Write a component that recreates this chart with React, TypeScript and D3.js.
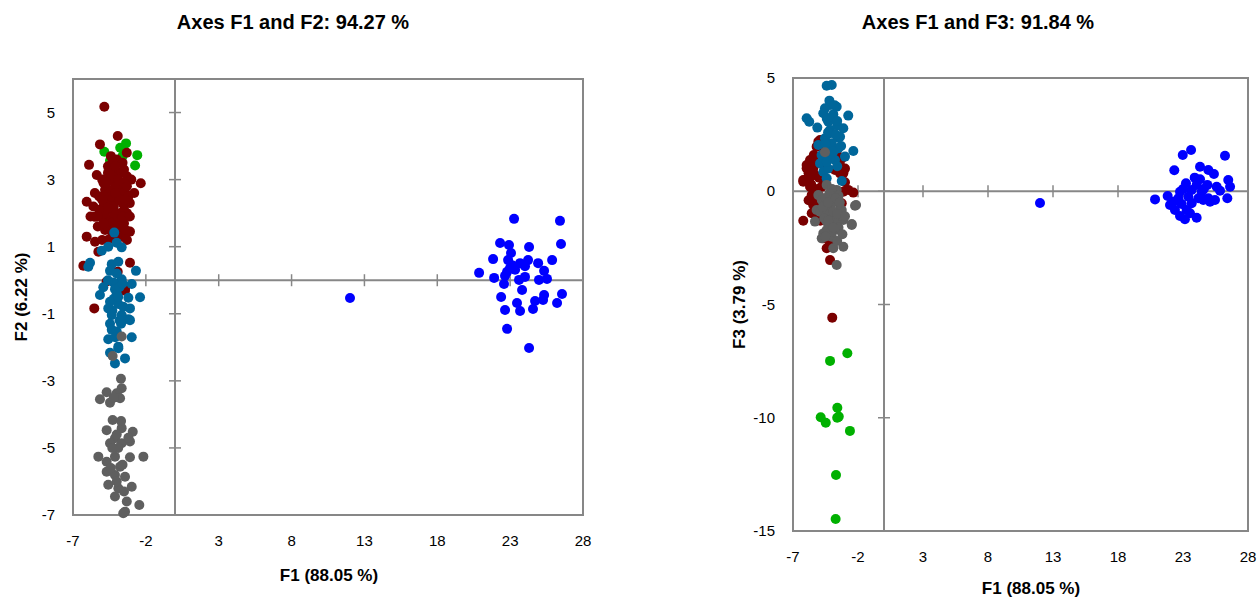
import React from 'react';
import * as d3 from 'd3';

type Pt = [number, number];

// tick labels
const f1Ticks = [-7, -2, 3, 8, 13, 18, 23, 28];
const f2Ticks = [-7, -5, -3, -1, 1, 3, 5];
const f3Ticks = [-15, -10, -5, 0, 5];

// series colours, in draw order
const groupNames = ['green', 'red', 'teal', 'gray', 'blue'];
const groupColors = ['#00b000', '#7a0000', '#00669a', '#5f5f5f', '#0000ff'];

// ---- F1 / F2 ----
const f12Green: Pt[] = [
  [-4.85, 3.83], [-3.76, 3.95], [-3.36, 4.08], [-2.59, 3.73], [-2.74, 3.42],
  [-4.46, 3.56], [-3.5, 2.81], [-3.6, 3.7], [-4.0, 3.5],
];
const f12Red: Pt[] = [
  [-4.85, 5.17], [-3.93, 4.3], [-5.15, 4.05], [-5.9, 3.44], [-5.37, 3.14],
  [-2.35, 2.89], [-3.31, 3.8], [-6.06, 2.34], [-5.49, 1.89], [-6.06, 1.3],
  [-6.29, 0.43], [-3.09, 0.52], [-3.09, 1.45], [-5.54, -0.84], [-3.43, -0.24],
  [-5.49, 1.15], [-5.26, 0.85], [-3.93, 0.25], [-3.43, -0.31], [-4.69, -0.04],
  [-3.2, 1.45], [-3.66, 1.6],
  [-4.4, 3.7], [-4.0, 3.6], [-3.6, 3.5], [-4.6, 3.4], [-4.2, 3.3], [-3.8, 3.2],
  [-3.3, 3.1], [-5.0, 3.0], [-4.5, 3.0], [-4.1, 2.9], [-3.7, 2.9], [-3.0, 3.0],
  [-4.8, 2.7], [-4.3, 2.7], [-3.9, 2.6], [-3.4, 2.6], [-5.2, 2.5], [-4.6, 2.4],
  [-4.1, 2.4], [-3.6, 2.3], [-3.1, 2.3], [-5.6, 2.2], [-4.9, 2.2], [-4.4, 2.1],
  [-3.8, 2.0], [-3.3, 2.0], [-5.1, 1.9], [-4.6, 1.8], [-4.0, 1.7], [-3.5, 1.7],
  [-4.8, 1.5], [-4.3, 1.4], [-3.7, 1.3], [-5.0, 1.2], [-3.3, 1.2],
  [-4.3, 3.5], [-3.5, 3.3], [-4.9, 2.9], [-4.5, 2.6], [-3.6, 2.7],
  [-4.2, 2.2], [-3.5, 2.1], [-4.8, 2.0], [-4.1, 1.9], [-3.9, 1.5], [-4.6, 1.2],
  [-2.8, 2.6], [-5.5, 2.6], [-5.8, 1.9], [-5.3, 1.6],
  [-4.3, 3.1], [-3.9, 3.0], [-4.7, 2.9], [-4.0, 2.8], [-3.5, 2.9], [-4.4, 2.5],
  [-3.8, 2.4], [-4.9, 2.5], [-4.2, 2.0], [-3.6, 1.9], [-4.4, 1.7], [-3.8, 1.6],
  [-4.6, 1.6], [-4.2, 1.5], [-5.2, 2.1], [-5.0, 2.4], [-3.3, 2.8], [-3.2, 2.5],
  [-4.1, 3.4], [-4.6, 3.2], [-4.1, 2.6], [-3.4, 2.4], [-4.6, 2.15],
  [-5.3, 1.9], [-4.9, 1.7], [-3.4, 1.5], [-4.0, 1.3], [-4.4, 1.25], [-3.1, 1.9],
];
const f12Teal: Pt[] = [
  [-4.17, 1.42], [-5.03, 0.88], [-4.58, 1.0], [-4.0, 1.12], [-3.66, 0.98],
  [-5.83, 0.52], [-5.95, 0.4], [-4.34, 0.48], [-3.89, 0.55], [-2.68, 0.28],
  [-4.46, 0.28], [-3.66, 0.03], [-2.97, -0.11], [-4.23, -0.07], [-4.92, -0.21],
  [-4.12, -0.27], [-5.15, -0.44], [-3.2, -0.52], [-2.4, -0.51], [-4.46, -0.64],
  [-3.89, -0.71], [-4.58, -0.84], [-3.55, -0.79], [-3.09, -0.84], [-4.34, -1.04],
  [-3.66, -1.04], [-3.2, -1.16], [-4.46, -1.3], [-4.34, -1.48], [-4.0, -1.53],
  [-4.58, -1.76], [-2.97, -1.7], [-3.89, -1.98], [-4.46, -2.16], [-3.43, -2.33],
  [-3.89, -2.03], [-4.12, -2.48], [-3.09, -1.19], [-4.0, -0.4], [-3.8, -0.2],
  [-4.2, -0.55], [-3.7, -1.3], [-4.0, 0.2], [-3.9, -0.5], [-4.3, -0.9],
  [-3.8, -1.2], [-4.1, -1.7], [-3.6, -0.1], [-4.6, 0.0],
];
const f12Gray: Pt[] = [
  [-3.66, -1.68], [-4.28, -2.26],
  [-3.71, -2.94], [-3.66, -3.22], [-4.69, -3.34], [-4.0, -3.37], [-5.15, -3.55],
  [-4.46, -3.65], [-3.77, -3.52], [-4.28, -4.17], [-4.69, -4.47], [-3.66, -4.41],
  [-2.9, -4.52], [-4.12, -4.71], [-4.46, -4.86], [-3.66, -4.86], [-3.09, -4.81],
  [-5.26, -5.26], [-4.69, -5.41], [-4.12, -5.26], [-3.09, -5.28], [-2.17, -5.26],
  [-3.77, -5.56], [-4.69, -5.71], [-4.12, -5.81], [-3.43, -5.86], [-4.58, -6.1],
  [-2.97, -6.16], [-3.89, -6.2], [-4.12, -6.45], [-3.31, -6.6], [-2.45, -6.7],
  [-3.43, -6.9], [-3.55, -6.95], [-4.0, -4.6], [-3.9, -5.0], [-4.3, -5.0],
  [-3.6, -5.5], [-4.0, -6.0], [-3.7, -4.2], [-4.2, -3.5], [-3.2, -4.7],
  [-4.4, -5.6], [-3.5, -6.3],
];
const f12Blue: Pt[] = [
  [23.27, 1.83], [26.42, 1.77], [22.31, 1.11], [22.92, 1.05], [24.3, 0.99],
  [26.49, 1.08], [23.06, 0.81], [21.83, 0.63], [22.86, 0.6], [23.68, 0.51],
  [24.23, 0.6], [24.92, 0.51], [25.88, 0.6], [20.87, 0.22], [22.99, 0.36],
  [23.34, 0.31], [24.02, 0.42], [25.33, 0.28], [21.9, 0.07], [22.65, 0.13],
  [23.61, 0.01], [24.02, 0.1], [24.98, 0.01], [25.53, 0.04], [22.58, -0.11],
  [23.82, -0.29], [22.38, -0.5], [25.33, -0.44], [26.56, -0.41], [24.71, -0.62],
  [23.47, -0.68], [25.26, -0.59], [26.22, -0.68], [22.65, -0.89], [23.68, -0.92],
  [24.57, -0.86], [22.79, -1.45], [24.3, -2.02], [23.13, 0.45], [22.79, 0.25],
  [12.01, -0.53],
];

// ---- F1 / F3 ----
const f13Green: Pt[] = [
  [-2.82, -7.15], [-4.15, -7.49], [-3.59, -9.56], [-4.87, -9.98], [-4.48, -10.22],
  [-3.48, -9.95], [-3.6, -10.0], [-2.62, -10.58], [-3.69, -12.53], [-3.72, -14.47],
];
const f13Red: Pt[] = [
  [-4.92, 2.26], [-5.18, 1.97], [-3.64, 1.68], [-3.25, 1.45], [-5.95, 1.16],
  [-5.44, 1.01], [-6.08, 0.5], [-3.77, 0.94], [-3.13, 0.79], [-5.31, 0.72],
  [-2.75, 0.06], [-5.69, 0.2], [-6.21, 0.5], [-5.95, 1.01], [-5.69, 1.38],
  [-5.05, 2.19], [-3.38, 0.79], [-2.36, -0.06], [-5.44, -0.53], [-5.31, -0.97],
  [-6.21, -1.3], [-4.15, -2.3], [-4.67, -2.08], [-6.21, 0.42], [-5.56, -0.17],
  [-3.13, -0.02], [-5.44, -0.61], [-5.56, -0.97], [-4.41, -2.52], [-4.15, -3.04],
  [-3.25, -0.53], [-3.98, -5.58], [-5.4, 1.6], [-4.8, 0.2], [-5.0, 0.6],
  [-5.8, 0.8], [-3.0, 1.0], [-4.6, 1.9], [-5.2, -0.3], [-3.0, 0.4], [-5.6, 0.3],
  [-4.9, -0.7], [-5.3, 1.3], [-4.7, 1.2], [-5.7, 0.6], [-5.1, 0.1], [-4.6, 0.4],
  [-3.4, 1.2], [-5.0, -0.2], [-5.8, -0.4], [-4.9, -1.3], [-5.5, 0.9],
];
const f13Teal: Pt[] = [
  [-4.41, 4.66], [-4.02, 4.69], [-4.54, 3.66], [-4.15, 3.81], [-3.64, 3.73],
  [-4.67, 3.44], [-2.75, 3.34], [-5.95, 3.22], [-5.75, 3.07], [-5.13, 2.81],
  [-4.28, 3.07], [-4.15, 2.7], [-3.13, 2.78], [-4.15, 2.56], [-3.52, 2.36],
  [-3.38, 2.41], [-4.54, 2.34], [-5.05, 2.04], [-4.15, 1.97], [-2.36, 1.78],
  [-3.0, 1.53], [-3.77, 1.38], [-4.15, 1.45], [-4.92, 1.23], [-4.67, 0.86],
  [-4.41, 0.57], [-3.25, 0.45], [-4.02, 2.12], [-3.6, 2.9], [-4.4, 3.2],
  [-3.9, 3.4], [-3.3, 2.0], [-4.8, 1.6], [-3.6, 1.1], [-4.3, 1.0],
  [-4.2, 4.0], [-3.8, 3.8], [-4.0, 3.3], [-3.6, 3.1], [-4.3, 2.6], [-3.7, 2.5],
  [-4.5, 2.1], [-3.5, 1.9], [-3.9, 1.75], [-4.4, 1.3],
];
const f13Gray: Pt[] = [
  [-4.54, 1.72], [-4.41, 0.28], [-3.64, 0.06], [-5.05, -0.17], [-4.02, -0.31],
  [-2.23, -0.64], [-5.18, -0.83], [-4.15, -0.83], [-3.25, -0.83], [-5.31, -1.34],
  [-4.41, -1.34], [-3.38, -1.19], [-2.48, -1.45], [-4.67, -1.86], [-3.77, -1.71],
  [-3.13, -2.45], [-3.9, -2.52], [-4.79, -2.08], [-3.64, -3.26], [-4.15, -0.24],
  [-4.79, -0.39], [-2.15, -0.61], [-4.02, -1.12], [-3.13, -1.27], [-2.48, -1.49],
  [-4.41, -1.71], [-3.64, -1.64], [-4.02, -2.01], [-4.92, -0.9], [-3.38, -0.75],
  [-4.4, -0.6], [-3.9, -0.5], [-4.0, 0.1], [-4.4, -1.0], [-3.8, -1.4],
  [-3.6, -2.2], [-4.2, -1.5], [-3.5, -0.2], [-4.6, -1.2], [-4.2, -0.1],
  [-3.7, -0.3], [-4.5, -0.3], [-3.4, -0.5], [-4.7, -0.7], [-3.9, -0.9],
  [-3.6, -1.0], [-4.3, -1.3], [-3.5, -1.6], [-4.1, -1.8], [-3.2, -1.9],
  [-4.5, -2.0], [-3.9, -1.6], [-4.3, -0.5], [-3.0, -1.1],
];
const f13Blue: Pt[] = [
  [23.62, 1.82], [22.98, 1.6], [26.23, 1.57], [22.33, 0.93], [24.31, 1.08],
  [24.95, 0.94], [25.38, 0.76], [24.31, 0.53], [26.48, 0.5], [23.23, 0.35],
  [24.05, 0.28], [24.87, 0.28], [25.59, 0.2], [26.62, 0.2], [22.77, -0.02],
  [23.67, 0.06], [24.44, -0.02], [25.85, 0.02], [21.82, -0.21], [20.85, -0.36],
  [22.64, -0.31], [23.41, -0.24], [24.18, -0.31], [24.95, -0.31], [25.46, -0.39],
  [26.41, -0.31], [22.0, -0.61], [22.9, -0.56], [23.67, -0.53], [22.38, -0.83],
  [23.28, -0.83], [23.54, -0.97], [22.77, -1.09], [23.15, -1.24], [24.05, -1.17],
  [24.56, -0.39], [25.08, -0.46], [22.25, -0.46], [23.9, 0.6], [24.6, 0.1],
  [23.0, 0.1], [12.0, -0.52],
];

const AXIS = '#878787';
const FONT = '"Liberation Sans", Arial, sans-serif';

type PanelProps = {
  title: string;
  titleX: number;
  xLabel: string;
  xLabelX: number;
  xLabelY: number;
  yLabel: string;
  yLabelX: number;
  box: { left: number; right: number; top: number; bottom: number };
  yDomain: [number, number];
  yTicks: number[];
  groups: Pt[][];
};

const Panel = (p: PanelProps) => {
  const x = d3.scaleLinear().domain([-7, 28]).range([p.box.left, p.box.right]);
  const y = d3.scaleLinear().domain(p.yDomain).range([p.box.bottom, p.box.top]);
  const x0 = x(0);
  const y0 = y(0);
  return (
    <g>
      <text x={p.titleX} y={29} textAnchor="middle" fontFamily={FONT}
        fontWeight="bold" fontSize={20}>{p.title}</text>
      <rect x={p.box.left} y={p.box.top} width={p.box.right - p.box.left}
        height={p.box.bottom - p.box.top} fill="none" stroke={AXIS} strokeWidth={2} />
      <line x1={p.box.left} x2={p.box.right} y1={y0} y2={y0} stroke={AXIS} strokeWidth={2} />
      <line x1={x0} x2={x0} y1={p.box.top} y2={p.box.bottom} stroke={AXIS} strokeWidth={2} />
      {f1Ticks.map((t) => (
        <g key={`xt${t}`}>
          <line x1={x(t)} x2={x(t)} y1={y0 - 6} y2={y0 + 6} stroke={AXIS} strokeWidth={1.5} />
          <text x={x(t)} y={p.box.bottom + 31} textAnchor="middle" fontFamily={FONT}
            fontSize={15}>{t}</text>
        </g>
      ))}
      {p.yTicks.map((t) => (
        <g key={`yt${t}`}>
          <line x1={x0 - 6} x2={x0 + 6} y1={y(t)} y2={y(t)} stroke={AXIS} strokeWidth={1.5} />
          <text x={p.box.left - 18} y={y(t) + 5} textAnchor="end" fontFamily={FONT}
            fontSize={15}>{t}</text>
        </g>
      ))}
      {p.groups.map((pts, gi) => (
        <g key={groupNames[gi]} fill={groupColors[gi]}>
          {pts.map((d, i) => (
            <circle key={i} cx={x(d[0])} cy={y(d[1])} r={5} />
          ))}
        </g>
      ))}
      <text x={p.xLabelX} y={p.xLabelY} textAnchor="middle" fontFamily={FONT}
        fontWeight="bold" fontSize={17}>{p.xLabel}</text>
      <text transform={`translate(${p.yLabelX},${(p.box.top + p.box.bottom) / 2}) rotate(-90)`}
        textAnchor="middle" fontFamily={FONT} fontWeight="bold" fontSize={17}>{p.yLabel}</text>
    </g>
  );
};

export default function App() {
  return (
    <svg width={1259} height={598} style={{ position: 'absolute', left: 0, top: 0, background: '#fff' }}>
      <Panel title="Axes F1 and F2: 94.27 %" titleX={293} xLabel="F1 (88.05 %)"
        xLabelX={329} xLabelY={581} yLabel="F2 (6.22 %)" yLabelX={27}
        box={{ left: 73, right: 583, top: 79, bottom: 515 }} yDomain={[-7, 6]}
        yTicks={f2Ticks} groups={[f12Green, f12Red, f12Teal, f12Gray, f12Blue]} />
      <Panel title="Axes F1 and F3: 91.84 %" titleX={978} xLabel="F1 (88.05 %)"
        xLabelX={1031} xLabelY={594} yLabel="F3 (3.79 %)" yLabelX={745}
        box={{ left: 793, right: 1248, top: 78, bottom: 531 }} yDomain={[-15, 5]}
        yTicks={f3Ticks} groups={[f13Green, f13Red, f13Teal, f13Gray, f13Blue]} />
    </svg>
  );
}
